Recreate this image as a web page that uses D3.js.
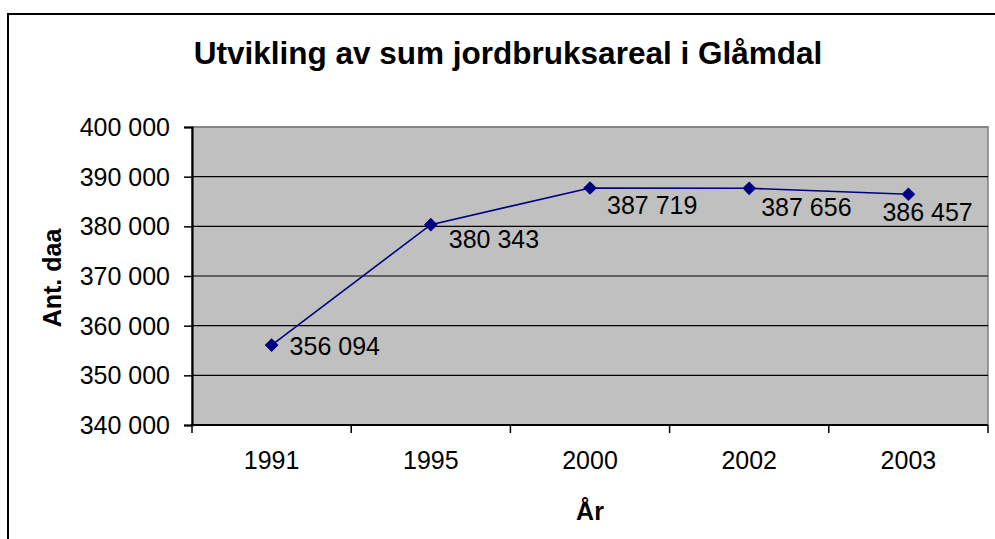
<!DOCTYPE html>
<html>
<head>
<meta charset="utf-8">
<script src="https://cdn.jsdelivr.net/npm/d3@7"></script>
<style>
  html, body { margin: 0; padding: 0; background: #fff; }
  svg { display: block; }
  text { font-family: "Liberation Sans", Arial, sans-serif; }
</style>
</head>
<body>
<svg id="chart" width="995" height="539"></svg>
<script>
// ---- Data ----
const categories = ["1991", "1995", "2000", "2002", "2003"];
const values = [356094, 380343, 387719, 387656, 386457];
const yTickValues = [340000, 350000, 360000, 370000, 380000, 390000, 400000];
const titleText = "Utvikling av sum jordbruksareal i Glåmdal";
const yAxisTitle = "Ant. daa";
const xAxisTitle = "År";

// ---- Layout ----
const W = 995, H = 539;
const plot = { left: 192, right: 988, top: 127, bottom: 425 };
const fontSize = 25;
// label offsets (dx from point to text start, dy from point to baseline)
const labelOffsets = [[18, 10], [18, 23], [17, 26], [12, 28], [-26, 27]];

const svg = d3.select("#chart");
const locale = d3.formatLocale({ decimal: ",", thousands: " ", grouping: [3], currency: ["", ""] });
const fmt = locale.format(",d");

// Outer chart border
svg.append("rect")
  .attr("x", 8).attr("y", 14)
  .attr("width", 1000).attr("height", 540)
  .attr("fill", "#fff").attr("stroke", "#000").attr("stroke-width", 2);

const x = d3.scaleBand().domain(categories).range([plot.left, plot.right]).padding(0);
const y = d3.scaleLinear().domain([340000, 400000]).range([plot.bottom, plot.top]);

// Plot background
svg.append("rect")
  .attr("x", plot.left).attr("y", plot.top)
  .attr("width", plot.right - plot.left).attr("height", plot.bottom - plot.top)
  .attr("fill", "#C0C0C0").attr("stroke", "#808080").attr("stroke-width", 1.5);

// Gridlines
svg.append("g").selectAll("line")
  .data(yTickValues.filter(v => v !== 340000))
  .join("line")
  .attr("x1", plot.left).attr("x2", plot.right)
  .attr("y1", d => y(d)).attr("y2", d => y(d))
  .attr("stroke", d => d === 400000 ? "#808080" : "#000")
  .attr("stroke-width", d => d === 400000 ? 1.5 : 1.2);

// Y axis
const yAxis = d3.axisLeft(y).tickValues(yTickValues).tickFormat(fmt).tickSize(8).tickPadding(14);
const gy = svg.append("g").attr("transform", `translate(${plot.left},0)`).call(yAxis);
gy.select(".domain").attr("stroke", "#000").attr("stroke-width", 2.2);
gy.selectAll(".tick line").attr("stroke", "#000").attr("stroke-width", 1.5);
gy.selectAll(".tick text")
  .attr("font-size", fontSize).attr("fill", "#000")
  .attr("font-family", "Liberation Sans, Arial, sans-serif")
  .attr("dy", "0.34em");

// X axis (labels at band centres, ticks at band boundaries)
const xAxis = d3.axisBottom(x).tickSize(0).tickPadding(26);
const gx = svg.append("g").attr("transform", `translate(0,${plot.bottom})`).call(xAxis);
gx.select(".domain").remove();
gx.selectAll(".tick text")
  .attr("font-size", fontSize).attr("fill", "#000")
  .attr("font-family", "Liberation Sans, Arial, sans-serif")
  .attr("dy", "0.71em");
const boundaries = categories.map(c => x(c)).concat([x(categories[categories.length - 1]) + x.bandwidth()]);
svg.append("g").selectAll("line")
  .data(boundaries)
  .join("line")
  .attr("x1", d => d).attr("x2", d => d)
  .attr("y1", plot.bottom).attr("y2", plot.bottom + 8)
  .attr("stroke", "#000").attr("stroke-width", 1.5);
svg.append("line")
  .attr("x1", plot.left - 1).attr("x2", plot.right)
  .attr("y1", plot.bottom).attr("y2", plot.bottom)
  .attr("stroke", "#000").attr("stroke-width", 2.2);

// Line
const pts = categories.map((c, i) => [x(c) + x.bandwidth() / 2, y(values[i])]);
svg.append("path")
  .attr("d", d3.line()(pts))
  .attr("fill", "none").attr("stroke", "#000080").attr("stroke-width", 1.6);

// Markers
svg.append("g").selectAll("path")
  .data(pts)
  .join("path")
  .attr("transform", d => `translate(${d[0]},${d[1]})`)
  .attr("d", d3.symbol().type(d3.symbolDiamond2).size(120))
  .attr("fill", "#000080");

// Data labels
svg.append("g").selectAll("text")
  .data(values)
  .join("text")
  .attr("x", (d, i) => pts[i][0] + labelOffsets[i][0])
  .attr("y", (d, i) => pts[i][1] + labelOffsets[i][1])
  .attr("font-size", fontSize).attr("fill", "#000")
  .text(d => fmt(d));

// Title
svg.append("text")
  .attr("x", 508).attr("y", 64)
  .attr("text-anchor", "middle")
  .attr("font-size", 31.5).attr("font-weight", "bold")
  .text(titleText);

// Axis titles
svg.append("text")
  .attr("transform", `translate(61,278) rotate(-90)`)
  .attr("text-anchor", "middle")
  .attr("font-size", fontSize).attr("font-weight", "bold")
  .text(yAxisTitle);

svg.append("text")
  .attr("x", 590).attr("y", 520)
  .attr("text-anchor", "middle")
  .attr("font-size", fontSize).attr("font-weight", "bold")
  .text(xAxisTitle);
</script>
</body>
</html>
